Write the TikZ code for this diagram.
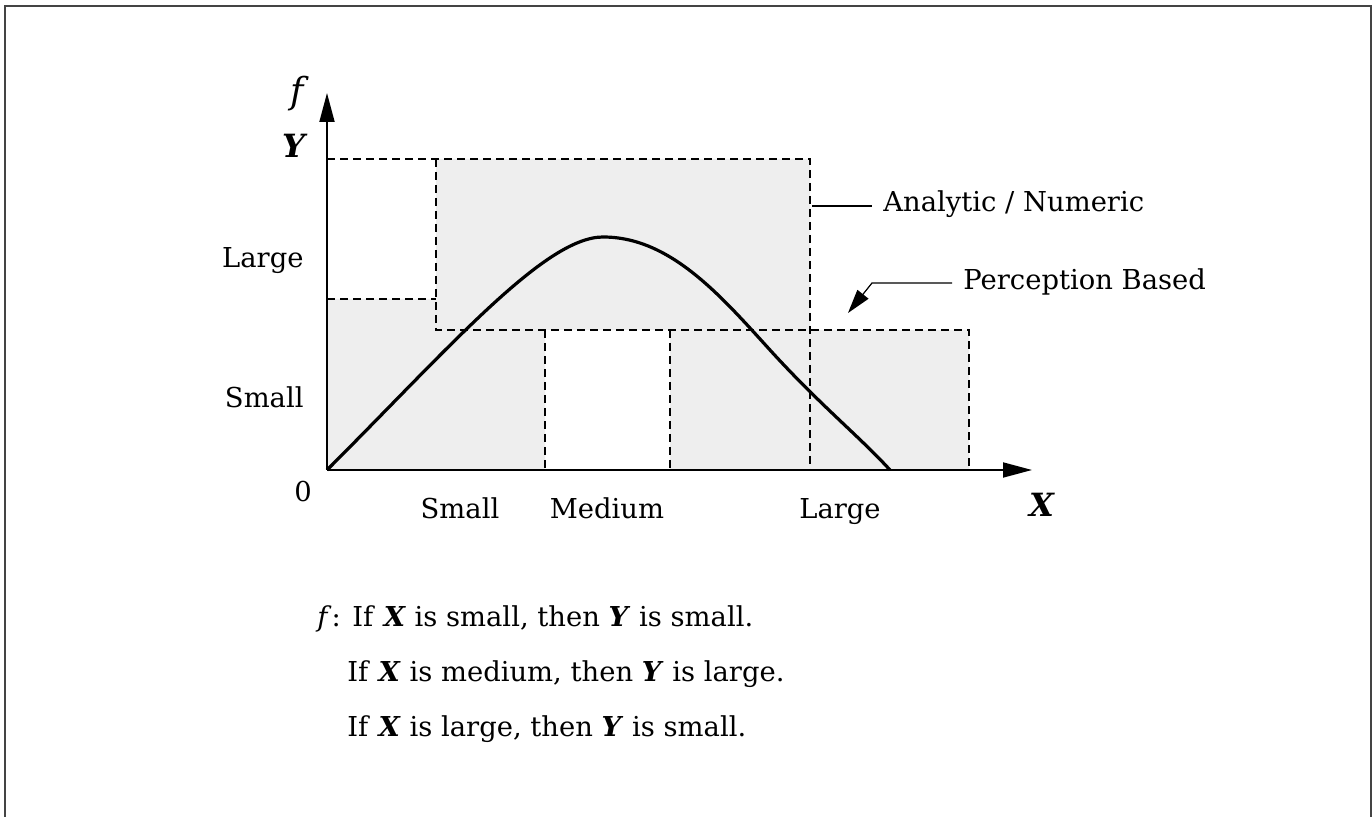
\documentclass[tikz,border=0pt]{standalone}
\usepackage{fontspec}
\setmainfont{DejaVu Serif}
\usetikzlibrary{arrows.meta}
\definecolor{granule}{HTML}{EEEEEE}
\definecolor{frame}{HTML}{444444}
\tikzset{
  every node/.style={font=\fontsize{13.7}{16}\selectfont,inner sep=0pt},
  axis/.style={line width=.9pt,-{Triangle[length=14.5pt,width=7.5pt]}},
  region/.style={dash pattern=on 4pt off 2.5pt,line width=1.3pt},
  curve/.style={line width=1.6pt,line join=round},
  leader/.style={line width=.6pt},
  varlabel/.style={font=\bfseries\itshape\fontsize{16}{18}\selectfont},
}
\newcommand{\var}[1]{\textbf{\textit{#1}}}

\begin{document}
\begin{tikzpicture}[x=.5pt,y=-.5pt]
\path[use as bounding box] (0,0) rectangle (1372,817);
\fill[white] (0,0) rectangle (1372,817);
\draw[frame,line width=1pt] (5,817) -- (5,6) -- (1370.5,6) -- (1370.5,817);
% shaded granules of the fuzzy graph
\fill[granule] (327,470) -- (327,299) -- (436,299) -- (436,159) -- (810,159) -- (810,330)
  -- (969,330) -- (969,470) -- (670,470) -- (670,330) -- (545,330) -- (545,470) -- cycle;
\draw[region] (327,159) -- (810,159) -- (810,470);
\draw[region] (327,299) -- (436,299);
\draw[region] (436,159) -- (436,330) -- (969,330) -- (969,470);
\draw[region] (545,330) -- (545,470);
\draw[region] (670,330) -- (670,470);
% axes
\coordinate (origin) at (327,470);
\coordinate (yTop) at (327,93);
\coordinate (xEnd) at (1032,470);
\draw[axis] (origin) -- (yTop);
\draw[axis] (origin) -- (xEnd);
% the function f
\draw[curve] (origin) .. controls (450,347) and (545,237) .. (603,237)
  .. controls (670,237) and (720,295) .. (770,350)
  .. controls (820,405) and (860,437) .. (890,470);
% axis labels
\node[font=\itshape\fontsize{18}{20}\selectfont,anchor=base east] (fLbl) at (304,104) {f};
\node[varlabel,anchor=base east] (yLbl) at (306,158) {Y};
\node[anchor=base east] (yLarge) at (304,268) {Large};
\node[anchor=base east] (ySmall) at (304,408) {Small};
\node[anchor=base] (zeroLbl) at (303,502) {0};
\node[anchor=base] (xSmall) at (460,519) {Small};
\node[anchor=base] (xMedium) at (607,519) {Medium};
\node[anchor=base] (xLarge) at (840,519) {Large};
\node[varlabel,anchor=base] (xLbl) at (1042,517) {X};
% legend callouts
\node[anchor=base west] (analytic) at (883,212) {Analytic / Numeric};
\coordinate (anMark) at (812,206);
\draw[leader] (anMark) -- ([xshift=-5.5pt]anMark -| analytic.west);
\node[anchor=base west] (perception) at (963,290) {Perception Based};
\coordinate (pbBend) at (872,283);
\coordinate (pbTip) at (848,313);
\draw[leader,-{Triangle[length=12pt,width=7pt]}] ([xshift=-5.5pt]pbBend -| perception.west) -- (pbBend) -- (pbTip);
% rule set
\node[anchor=base west] (rule1) at (317,627) {\textit{f}: If \var{X} is small, then \var{Y} is small.};
\node[anchor=base west] (rule2) at (347,682) {If \var{X} is medium, then \var{Y} is large.};
\node[anchor=base west] (rule3) at (347,737) {If \var{X} is large, then \var{Y} is small.};
\end{tikzpicture}
\end{document}
